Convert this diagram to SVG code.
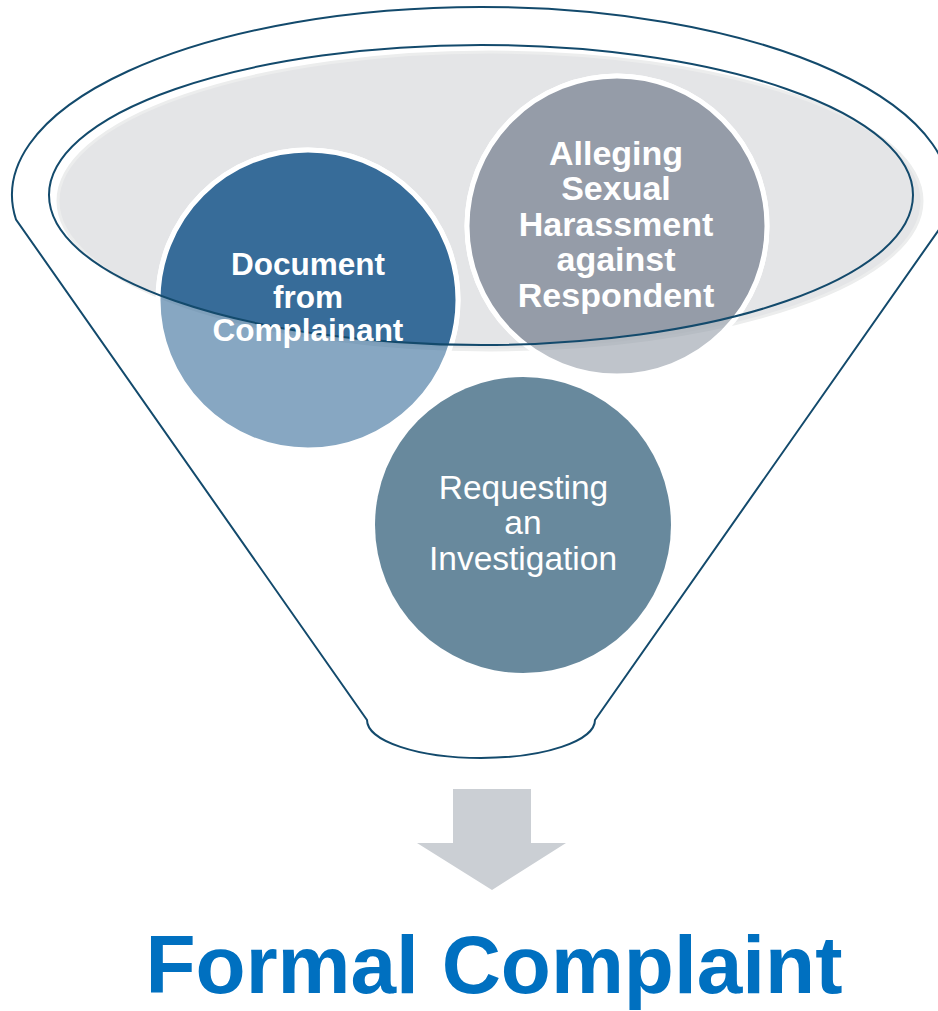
<svg xmlns="http://www.w3.org/2000/svg" width="938" height="1011" viewBox="0 0 938 1011">
  <style>
    .outline { fill: none; stroke: #134a6c; stroke-width: 2; }
    .ring { stroke: #ffffff; stroke-width: 5; }
    .lbl-b { font-family: "Liberation Sans", Arial, sans-serif; font-weight: bold; fill: #ffffff; text-anchor: middle; }
    .lbl-r { font-family: "Liberation Sans", Arial, sans-serif; font-weight: normal; fill: #ffffff; text-anchor: middle; }
    .title { font-family: "Liberation Sans", Arial, sans-serif; font-weight: bold; fill: #0070c0; text-anchor: middle; }
  </style>
  <defs>
    <clipPath id="topClip">
      <ellipse cx="481" cy="195" rx="432" ry="150"/>
    </clipPath>
  </defs>
  <rect width="938" height="1011" fill="#ffffff"/>

  <g id="funnel">
    <path class="outline" d="M 16 219.5 A 469 188 0 1 1 946 219.5 L 595 720 A 114 38 0 0 1 367 720 Z"/>
    <ellipse cx="490" cy="201" rx="432" ry="149" fill="#e4e5e7" stroke="#eceded" stroke-width="3"/>
  </g>

  <g id="node-document">
    <circle cx="308" cy="300" r="150" fill="#376c99" fill-opacity="0.6" class="ring"/>
    <circle cx="308" cy="300" r="150" fill="#376c99" class="ring" clip-path="url(#topClip)"/>
  </g>

  <g id="node-alleging">
    <circle cx="617" cy="226" r="150" fill="#959ca8" fill-opacity="0.6" class="ring"/>
    <circle cx="617" cy="226" r="150" fill="#959ca8" class="ring" clip-path="url(#topClip)"/>
  </g>

  <g id="node-requesting">
    <circle cx="523" cy="525" r="148" fill="#68899d"/>
  </g>

  <g id="connectors">
    <ellipse class="outline" cx="481" cy="195" rx="432" ry="150"/>
    <path id="arrow" d="M 453 789 L 531 789 L 531 843 L 566 843 L 492 890 L 417 843 L 453 843 Z" fill="#cbcfd4"/>
  </g>

  <g id="labels">
    <text class="lbl-b" font-size="31.5" x="308" y="275">Document</text>
    <text class="lbl-b" font-size="31.5" x="308" y="308">from</text>
    <text class="lbl-b" font-size="31.5" x="308" y="341">Complainant</text>

    <text class="lbl-b" font-size="34" x="616" y="165">Alleging</text>
    <text class="lbl-b" font-size="34" x="616" y="200">Sexual</text>
    <text class="lbl-b" font-size="34" x="616" y="236">Harassment</text>
    <text class="lbl-b" font-size="34" x="616" y="271">against</text>
    <text class="lbl-b" font-size="34" x="616" y="307">Respondent</text>

    <text class="lbl-r" font-size="33.5" x="523.5" y="499">Requesting</text>
    <text class="lbl-r" font-size="33.5" x="523" y="534">an</text>
    <text class="lbl-r" font-size="33.5" x="523" y="570">Investigation</text>
  </g>

  <g id="title">
    <text class="title" font-size="82" x="494" y="993">Formal Complaint</text>
  </g>
</svg>
